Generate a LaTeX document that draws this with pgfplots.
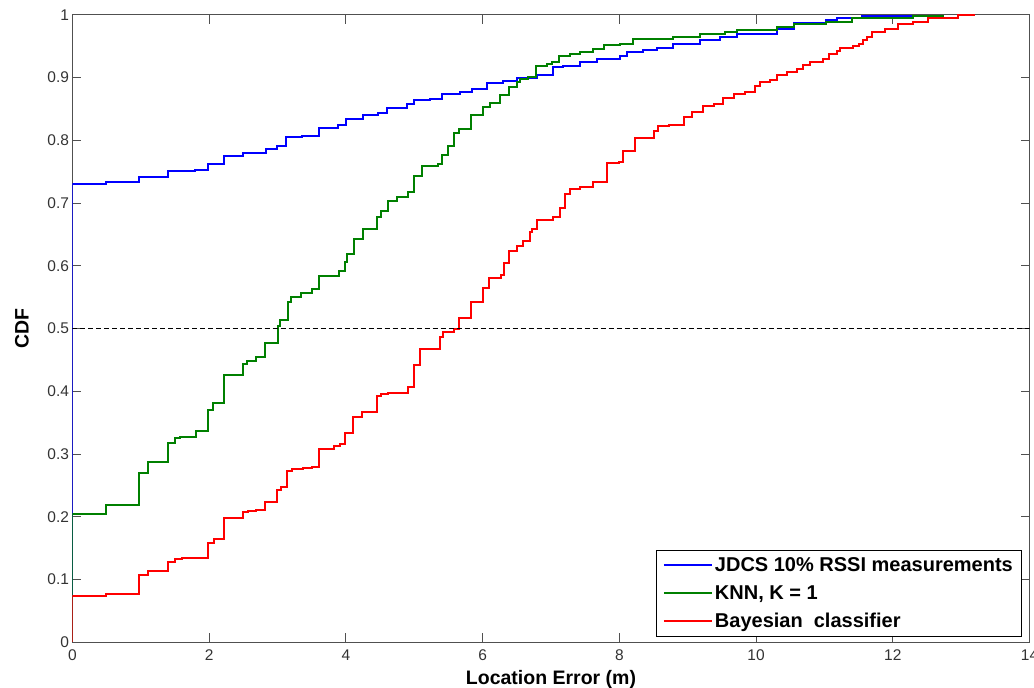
\documentclass[border=0pt]{standalone}
\usepackage{fontspec}
\setmainfont{Liberation Sans}
\usepackage{pgfplots}
\pgfplotsset{compat=1.18}
\definecolor{mblue}{RGB}{0,0,255}
\definecolor{mgreen}{RGB}{0,128,0}
\definecolor{mred}{RGB}{255,0,0}
\definecolor{axgray}{RGB}{80,80,80}
\begin{document}
\begin{tikzpicture}
\begin{axis}[
  at={(0pt,0pt)}, anchor=south west,
  scale only axis, width=957pt, height=627.6pt,
  xmin=0, xmax=14, ymin=0, ymax=1,
  xtick={0,2,...,14}, ytick={0,0.1,...,1},
  /pgf/number format/assume math mode=true,
  /pgf/number format/fixed,
  /pgf/number format/precision=1,
  axis line style={draw=axgray, line width=0.9pt},
  tick style={draw=axgray, line width=0.9pt},
  major tick length=9pt,
  tick label style={font=\fontsize{15.5}{18}\selectfont, text=black!80},
  xticklabel style={yshift=-4pt},
  xlabel={\textbf{Location Error (m)}},
  ylabel={\textbf{CDF}},
  label style={font=\fontsize{19.5}{22}\selectfont},
  x label style={at={(axis description cs:0.5,-0.068)}, anchor=base},
  y label style={at={(axis description cs:-0.0528,0.5)}, anchor=center},
  legend cell align=left,
  legend style={at={(0.9925,0.1471)}, anchor=north east, draw=black, line width=0.9pt,
    font=\bfseries\fontsize{20}{24}\selectfont, inner xsep=7pt, inner ysep=5pt, row sep=8.5pt},
  legend image code/.code={\draw[#1] (0pt,0pt) -- (48pt,0pt);},
  const plot,
]
\addplot[mblue, line width=2pt] coordinates {
(0,0) (0,0.730) (0.49,0.733) (0.97,0.741) (1.40,0.751) (1.79,0.753) (1.98,0.762) (2.22,0.775) (2.50,0.780) (2.83,0.786) (2.99,0.791) (3.13,0.805) (3.36,0.807) (3.61,0.820) (3.89,0.825) (4.00,0.834) (4.25,0.840) (4.47,0.844) (4.60,0.852) (4.89,0.857) (4.99,0.864) (5.23,0.866) (5.40,0.873) (5.67,0.877) (5.84,0.882) (6.06,0.891) (6.30,0.895) (6.50,0.899) (6.79,0.904) (7.03,0.916) (7.18,0.919) (7.42,0.924) (7.67,0.929) (8.01,0.934) (8.11,0.940) (8.35,0.944) (8.55,0.947) (8.79,0.953) (9.18,0.960) (9.47,0.964) (9.72,0.970) (10.30,0.977) (10.55,0.986) (11.03,0.992) (11.18,0.995) (11.55,0.998) (12.30,1.0)
};
\addlegendentry{JDCS 10\% RSSI measurements}
\addplot[mgreen, line width=2pt] coordinates {
(0,0) (0,0.204) (0.49,0.218) (0.98,0.269) (1.11,0.287) (1.39,0.317) (1.50,0.325) (1.57,0.327) (1.80,0.336) (1.98,0.370) (2.05,0.382) (2.22,0.426) (2.49,0.443) (2.55,0.448) (2.68,0.455) (2.81,0.477) (3.00,0.504) (3.04,0.514) (3.15,0.543) (3.20,0.550) (3.35,0.557) (3.50,0.563) (3.61,0.584) (3.90,0.592) (3.99,0.606) (4.02,0.619) (4.12,0.642) (4.25,0.659) (4.45,0.677) (4.52,0.688) (4.61,0.703) (4.74,0.710) (4.91,0.717) (4.99,0.743) (5.11,0.759) (5.35,0.762) (5.40,0.776) (5.50,0.790) (5.58,0.811) (5.65,0.818) (5.83,0.840) (6.00,0.853) (6.11,0.859) (6.25,0.872) (6.39,0.884) (6.50,0.892) (6.55,0.898) (6.67,0.900) (6.78,0.919) (6.94,0.921) (7.01,0.925) (7.11,0.934) (7.28,0.937) (7.42,0.941) (7.62,0.945) (7.77,0.951) (8.01,0.954) (8.20,0.962) (8.79,0.964) (9.18,0.970) (9.55,0.972) (9.72,0.976) (10.30,0.981) (10.55,0.985) (11.03,0.988) (11.40,0.994) (12.30,0.998) (12.74,1.0)
};
\addlegendentry{KNN, K = 1}
\addplot[mred, line width=2pt] coordinates {
(0,0) (0,0.074) (0.49,0.077) (0.98,0.107) (1.11,0.114) (1.40,0.128) (1.50,0.133) (1.60,0.134) (1.98,0.159) (2.07,0.165) (2.22,0.198) (2.50,0.207) (2.57,0.209) (2.69,0.211) (2.82,0.223) (2.99,0.243) (3.05,0.248) (3.14,0.273) (3.21,0.276) (3.37,0.277) (3.51,0.280) (3.60,0.308) (3.82,0.312) (3.91,0.316) (3.99,0.334) (4.11,0.359) (4.23,0.367) (4.45,0.392) (4.52,0.396) (4.62,0.398) (4.91,0.406) (4.99,0.442) (5.09,0.468) (5.38,0.487) (5.42,0.495) (5.58,0.499) (5.65,0.517) (5.83,0.543) (6.00,0.564) (6.09,0.581) (6.27,0.586) (6.31,0.604) (6.39,0.623) (6.50,0.632) (6.59,0.640) (6.69,0.654) (6.72,0.658) (6.79,0.673) (7.03,0.678) (7.13,0.692) (7.21,0.715) (7.28,0.722) (7.42,0.726) (7.62,0.734) (7.82,0.763) (7.99,0.766) (8.06,0.783) (8.23,0.803) (8.50,0.814) (8.57,0.822) (8.72,0.825) (8.94,0.837) (9.06,0.845) (9.23,0.855) (9.38,0.858) (9.52,0.868) (9.67,0.874) (9.84,0.877) (9.99,0.886) (10.06,0.892) (10.20,0.896) (10.30,0.904) (10.45,0.909) (10.60,0.913) (10.69,0.920) (10.79,0.924) (10.98,0.929) (11.06,0.938) (11.18,0.942) (11.23,0.947) (11.42,0.950) (11.50,0.954) (11.57,0.960) (11.62,0.965) (11.69,0.972) (11.89,0.977) (12.08,0.985) (12.30,0.988) (12.52,0.994) (12.96,1.0) (13.20,1.0)
};
\addlegendentry{Bayesian\ \ classifier}
\addplot[black, line width=1.4pt, dash pattern=on 5pt off 3pt, forget plot, sharp plot] coordinates {(0,0.5) (14,0.5)};
\end{axis}
\pgfresetboundingbox
\useasboundingbox (-72.5pt,-45.7pt) rectangle (961.5pt,642.3pt);
\end{tikzpicture}
\end{document}
